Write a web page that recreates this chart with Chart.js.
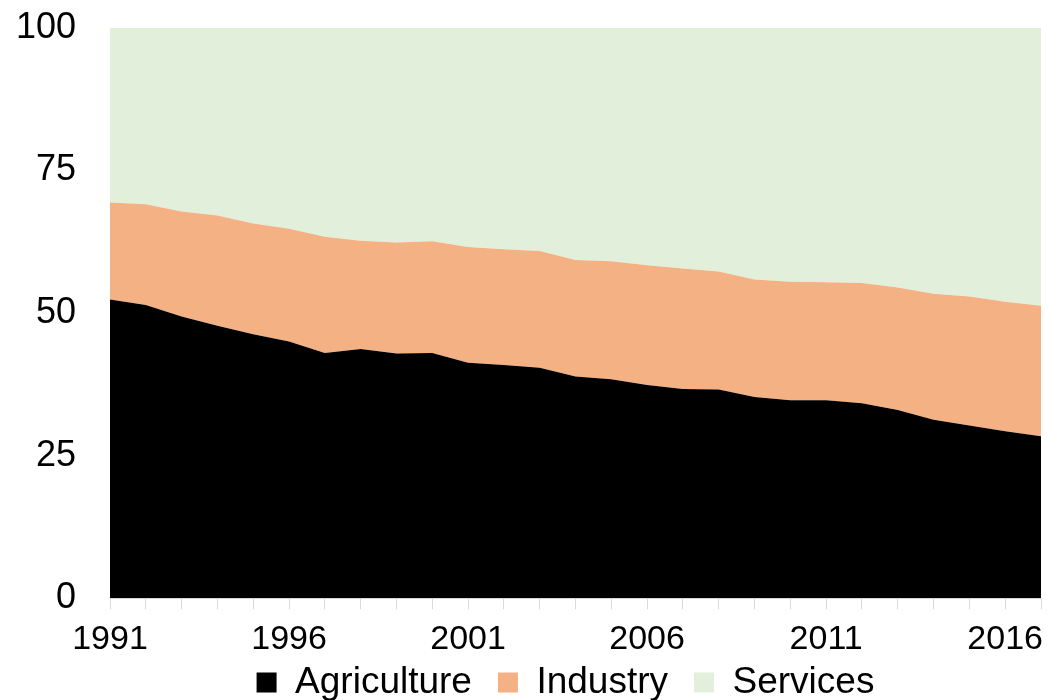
<!DOCTYPE html>
<html>
<head>
<meta charset="utf-8">
<script src="https://cdn.jsdelivr.net/npm/chart.js@4"></script>
<style>
  html, body { margin: 0; padding: 0; background: #fff; }
  #wrap { width: 1052px; height: 700px; }
</style>
</head>
<body>
<div id="wrap"><canvas id="grafico"></canvas></div>
<script>
// Años del eje x
var anios = [1991, 1992, 1993, 1994, 1995, 1996, 1997, 1998, 1999, 2000,
             2001, 2002, 2003, 2004, 2005, 2006, 2007, 2008, 2009, 2010,
             2011, 2012, 2013, 2014, 2015, 2016, 2017];

// Participación por sector (%)
var agricultura = [52.4, 51.4, 49.4, 47.8, 46.3, 45.0, 43.0, 43.7, 42.9, 43.0,
                   41.3, 40.9, 40.4, 38.9, 38.4, 37.4, 36.7, 36.6, 35.3, 34.7,
                   34.7, 34.2, 33.0, 31.3, 30.3, 29.3, 28.4];
var industria = [17.0, 17.7, 18.4, 19.3, 19.4, 19.8, 20.4, 19.0, 19.5, 19.6,
                 20.3, 20.3, 20.5, 20.4, 20.7, 21.0, 21.1, 20.7, 20.6, 20.8,
                 20.7, 21.1, 21.5, 22.1, 22.6, 22.7, 22.9];
var servicios = [30.6, 30.9, 32.2, 32.9, 34.3, 35.2, 36.6, 37.3, 37.6, 37.4,
                 38.4, 38.8, 39.1, 40.7, 40.9, 41.6, 42.2, 42.7, 44.1, 44.5,
                 44.6, 44.7, 45.5, 46.6, 47.1, 48.0, 48.7];

var ticksY = [0, 25, 50, 75, 100];

Chart.defaults.font.family = '"Liberation Sans", Arial, sans-serif';
Chart.defaults.color = '#000';

function serie(nombre, datos, color, relleno) {
    return {
        label: nombre,
        data: datos,
        backgroundColor: color,
        borderColor: color,
        borderWidth: 0,
        pointRadius: 0,
        tension: 0,
        fill: relleno
    };
}

// Ajusta la altura y la posición de la leyenda
var ajusteLeyenda = {
    id: 'ajusteLeyenda',
    beforeInit: function (chart) {
        var leyenda = chart.legend;
        var fitOriginal = leyenda.fit;
        leyenda.fit = function () {
            fitOriginal.call(this);
            this.height = 30;
        };
    },
    afterLayout: function (chart) {
        chart.legend.left += 45;
        chart.legend.right += 45;
        chart.legend.top -= 32;
    }
};

var ctx = document.getElementById('grafico').getContext('2d');
var myChart = new Chart(ctx, {
    type: 'line',
    data: {
        labels: anios,
        datasets: [
            serie('Agriculture', agricultura, '#000000', 'origin'),
            serie('Industry', industria, '#F4B183', '-1'),
            serie('Services', servicios, '#E2EFDA', '-1')
        ]
    },
    options: {
        responsive: true,
        maintainAspectRatio: false,
        animation: false,
        layout: { padding: { top: 28, right: 11, left: 0, bottom: 0 } },
        plugins: {
            tooltip: { enabled: false },
            legend: {
                position: 'bottom',
                labels: {
                    boxWidth: 20,
                    boxHeight: 20,
                    padding: 26,
                    font: { size: 37 }
                }
            }
        },
        scales: {
            x: {
                offset: false,
                grid: {
                    drawOnChartArea: false,
                    drawTicks: true,
                    tickLength: 11,
                    color: '#d9d9d9'
                },
                border: { display: true, color: '#d9d9d9' },
                ticks: {
                    autoSkip: false,
                    maxRotation: 0,
                    padding: 10,
                    font: { size: 34 },
                    callback: function (valor, indice) {
                        return indice % 5 === 0 ? anios[indice] : '';
                    }
                }
            },
            y: {
                stacked: true,
                min: 0,
                max: 100,
                afterFit: function (escala) { escala.width = 110; },
                afterBuildTicks: function (escala) {
                    escala.ticks = ticksY.map(function (v) { return { value: v }; });
                },
                grid: {
                    display: true,
                    drawOnChartArea: false,
                    drawTicks: true,
                    tickLength: 28,
                    tickColor: 'rgba(0,0,0,0)'
                },
                border: { display: false },
                ticks: {
                    padding: 6,
                    font: { size: 36 }
                }
            }
        }
    },
    plugins: [ajusteLeyenda]
});
</script>
</body>
</html>
